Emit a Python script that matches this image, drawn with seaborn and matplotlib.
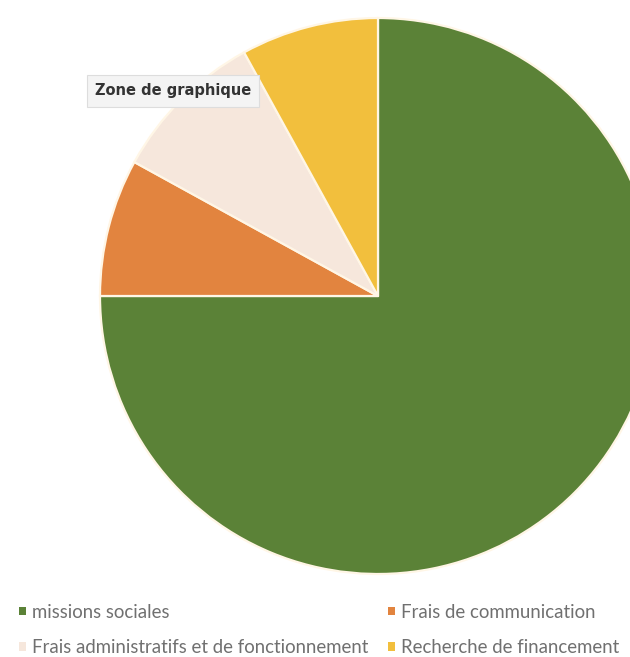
import matplotlib
matplotlib.use("Agg")
import matplotlib.pyplot as plt
import seaborn as sns
from matplotlib.patches import Patch

sns.set_theme(style="white")
plt.rcParams['font.family'] = ['Lato', 'DejaVu Sans']

categories = ["missions sociales", "Frais de communication",
              "Frais administratifs et de fonctionnement", "Recherche de financement"]
values = [75, 8, 9, 8]
colors = ["#5B8237", "#E2843F", "#F6E7DC", "#F2BF3D"]

W, H = 630, 657
cx, cy, R = 378, 296, 278

fig = plt.figure(figsize=(W / 100, H / 100), dpi=100)
ax = fig.add_axes([0, 0, 1, 1])
ax.pie(values, colors=colors, startangle=90, counterclock=False, radius=1,
       wedgeprops=dict(edgecolor="#FFF6E6", linewidth=1.6))
ax.set_xlim(-cx / R, (W - cx) / R)
ax.set_ylim(-(H - cy) / R, cy / R)
ax.set_aspect("auto")
ax.axis("off")

# legend (column-major order for ncol=2)
order = [0, 2, 1, 3]
handles = [Patch(facecolor=colors[i], edgecolor="none") for i in order]
labels = [categories[i] for i in order]
fig.legend(handles, labels, ncol=2, loc="upper left",
           bbox_to_anchor=(6 / W, 1 - 591 / H), frameon=False,
           fontsize=13.4, labelcolor="#707070", handlelength=0.36, handleheight=0.3,
           handletextpad=0.35, columnspacing=1.05, labelspacing=0.98, borderpad=0.2)

# tooltip overlay
fig.text(95 / W, 1 - 91 / H, "Zone de graphique", fontsize=10.5, fontweight="bold",
         family="DejaVu Sans", color="#333333", va="center", ha="left",
         bbox=dict(boxstyle="square,pad=0.55", facecolor="#F4F4F4",
                   edgecolor="#DDDDDD", linewidth=0.8))

fig.savefig("out.png", dpi=100)
